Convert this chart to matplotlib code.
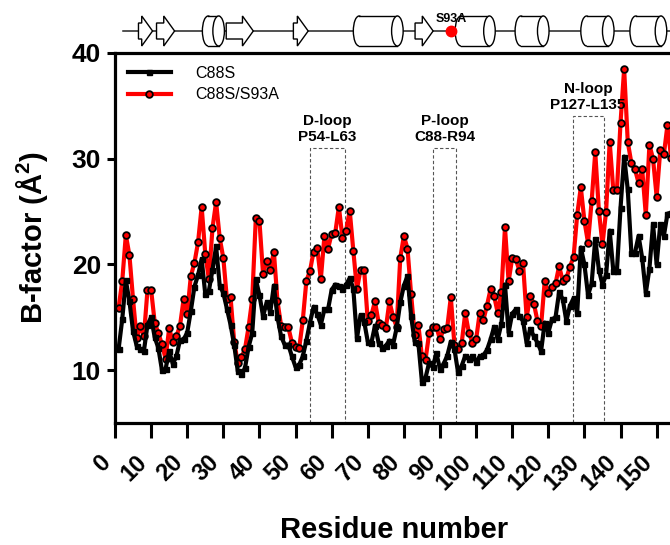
import numpy as np
import matplotlib
matplotlib.use('Agg')
import matplotlib.pyplot as plt
from matplotlib.patches import Rectangle, Ellipse, Polygon

plt.rcParams['font.family'] = ['Liberation Sans', 'DejaVu Sans']
plt.rcParams['mathtext.fontset'] = 'custom'
plt.rcParams['mathtext.rm'] = 'Liberation Sans'
plt.rcParams['mathtext.bf'] = 'Liberation Sans:bold'

# ---------------- data ----------------
residues = np.arange(1, 155)

c88s = [
    12.0, 14.8, 18.5, 16.5, 13.7, 12.3, 12.0, 11.8, 14.3, 15.0,
    13.1, 12.1, 10.0, 10.1, 11.8, 10.6, 11.3, 12.85, 12.9, 13.55,
    15.6, 17.9, 19.0, 20.5, 17.2, 17.5, 19.5, 21.7, 18.0, 17.3,
    15.8, 14.3, 12.4, 9.9, 9.6, 10.2, 12.2, 13.5, 18.6, 17.1,
    15.1, 16.4, 15.5, 18.0, 15.0, 13.2, 12.4, 12.4, 11.3, 10.3,
    10.5, 11.3, 12.8, 14.5, 16.0, 15.3, 14.3, 15.75, 15.75, 17.6,
    18.1, 18.0, 17.7, 18.1, 18.7, 17.7, 13.0, 15.2, 14.6, 12.7,
    12.6, 14.2, 12.6, 12.1, 12.3, 12.8, 12.4, 14.0, 16.4, 18.0,
    18.9, 15.1, 12.7, 12.6, 8.9, 9.3, 10.7, 10.3, 11.6, 10.1,
    10.6, 11.35, 12.7, 12.0, 9.8, 10.4, 11.35, 11.1, 11.3, 10.8,
    11.3, 11.4, 11.9, 12.9, 14.1, 12.9, 14.4, 18.1, 13.55, 15.35,
    15.75, 15.1, 14.65, 12.55, 13.9, 13.2, 12.6, 11.8, 14.5, 13.55,
    14.8, 15.0, 17.4, 16.7, 14.65, 16.1, 16.8, 15.4, 21.6, 20.0,
    17.1, 18.2, 22.4, 19.5, 18.1, 19.0, 23.2, 19.4, 19.4, 25.35,
    30.2, 27.1, 21.1, 21.1, 22.7, 20.6, 17.3, 19.6, 23.8, 20.0,
    23.8, 22.7, 24.8, 24.9]

c88s_s93a = [
    15.9, 18.4, 22.8, 20.85, 16.7, 13.0, 14.2, 13.2, 17.6, 17.6,
    14.5, 13.5, 12.45, 11.1, 13.95, 12.7, 13.2, 14.2, 16.7, 15.35,
    18.9, 20.15, 22.1, 25.45, 21.0, 18.6, 23.45, 25.9, 22.5, 20.6,
    16.7, 16.9, 12.7, 10.7, 11.2, 12.0, 14.1, 16.7, 24.4, 24.1,
    19.1, 20.35, 19.5, 21.2, 16.5, 14.2, 14.1, 14.05, 12.6, 12.15,
    12.05, 14.7, 18.45, 19.4, 21.2, 21.55, 18.6, 22.7, 21.5, 22.9,
    23.0, 25.45, 22.5, 23.2, 25.1, 21.3, 17.65, 19.5, 19.5, 14.65,
    15.2, 16.5, 14.5, 14.25, 13.95, 16.5, 15.05, 14.1, 20.6, 22.7,
    21.5, 17.2, 13.3, 14.3, 11.3, 11.0, 13.5, 14.1, 14.1, 12.9,
    13.9, 14.0, 16.9, 12.4, 12.0, 12.55, 15.4, 13.55, 12.6, 12.9,
    15.4, 14.7, 16.1, 17.65, 17.0, 15.4, 17.4, 23.5, 18.4, 20.6,
    20.5, 19.4, 20.1, 15.0, 17.0, 16.3, 14.65, 14.2, 18.4, 17.3,
    17.9, 18.2, 19.85, 18.4, 18.7, 19.8, 20.7, 24.7, 27.3, 24.1,
    22.05, 26.0, 30.6, 25.1, 21.9, 25.0, 31.6, 27.0, 27.0, 33.4,
    38.5, 31.6, 29.6, 29.0, 27.7, 29.0, 24.7, 31.3, 30.0, 26.4,
    30.8, 30.4, 33.2, 30.1]

series_names = ['C88S', 'C88S/S93A']
xticks = list(range(0, 151, 10))
yticks = [10, 20, 30, 40]

loop_names = ['D-loop\nP54-L63', 'P-loop\nC88-R94', 'N-loop\nP127-L135']
loop_start = [54.0, 88.0, 126.7]
loop_end = [63.8, 94.5, 135.3]
loop_top = [31, 31, 34]

strands = [(6.5, 10.4), (11.5, 16.5), (30.8, 38.3), (49.4, 53.5), (83.1, 88.1)]
helices = [(24.2, 30.3), (66.0, 79.8), (94.2, 105.3), (110.8, 120.2),
           (129.0, 138.2), (142.6, 152.8)]
mutation_site = 93
mutation_label = 'S93A'

# ---------------- layout ----------------
W, H = 670, 545
fig = plt.figure(figsize=(W / 100, H / 100), dpi=100)
left = 115 / W
right = 1.0
bottom = (H - 423) / H
top = (H - 53) / H
XMAX = 153.7
YMIN, YMAX = 5, 40

ax = fig.add_axes([left, bottom, right - left, top - bottom])

ax.plot(residues, c88s_s93a, color='#ff0000', lw=3, marker='o', ms=4.8,
        mfc='#ff0000', mec='black', mew=1.3, zorder=3, label=series_names[1])
ax.plot(residues, c88s, color='black', lw=3, marker='s', ms=3.6,
        zorder=4, label=series_names[0])

for name, s, e, t in zip(loop_names, loop_start, loop_end, loop_top):
    ax.add_patch(Rectangle((s, YMIN), e - s, t - YMIN, fill=False,
                           ls=(0, (3, 2)), lw=0.8, ec='#555555', zorder=2))
    ax.annotate(name, xy=((s + e) / 2, t), xytext=(0, 3),
                textcoords='offset points', ha='center', va='bottom',
                fontsize=11, fontweight='bold', linespacing=1.2)

ax.set_xlim(0, XMAX)
ax.set_ylim(YMIN, YMAX)
ax.set_xticks(xticks)
ax.set_yticks(yticks)
ax.tick_params(axis='x', direction='out', length=11, width=2.2, pad=9,
               labelsize=17)
ax.tick_params(axis='y', direction='out', length=6, width=2.2, pad=4,
               labelsize=19)
for lbl in ax.get_xticklabels():
    lbl.set_fontweight('bold')
    lbl.set_rotation(45)
    lbl.set_ha('right')
for lbl in ax.get_yticklabels():
    lbl.set_fontweight('bold')

for sp in ['left', 'bottom', 'top']:
    ax.spines[sp].set_linewidth(2.3)
ax.spines['right'].set_visible(False)

ax.set_xlabel('Residue number', fontsize=21, fontweight='bold', va='center')
ax.xaxis.set_label_coords((394 - 115) / 555, (423 - 530) / 370)
ax.set_ylabel('B-factor (Å$^{\\mathbf{2}}$)', fontsize=21, fontweight='bold',
              va='center')
ax.yaxis.set_label_coords((32 - 115) / 555, (423 - 237) / 370)

handles, labels = ax.get_legend_handles_labels()
ax.legend(handles[::-1], labels[::-1], loc='upper left', frameon=False,
          fontsize=11.5, handlelength=2.7, handletextpad=1.5,
          labelspacing=0.4, borderaxespad=0.4)

# ---------------- secondary structure strip ----------------
axs = fig.add_axes([left, 1 - 52 / H, right - left, 52 / H])
axs.set_xlim(0, XMAX)
axs.set_ylim(52, 0)
axs.axis('off')
yc = 31
axs.plot([2.2, XMAX], [yc, yc], color='#222222', lw=1.1, zorder=1)

th, hh, hl = 8, 15, 3.0
for s, e in strands:
    pts = [(s, yc - th), (e - hl, yc - th), (e - hl, yc - hh), (e, yc),
           (e - hl, yc + hh), (e - hl, yc + th), (s, yc + th)]
    axs.add_patch(Polygon(pts, closed=True, fc='white', ec='black', lw=1.0,
                          zorder=3))

ew, ch = 3.2, 15
for s, e in helices:
    cl, cr = s + ew / 2, e - ew / 2
    axs.add_patch(Ellipse((cl, yc), ew, 2 * ch, fc='white', ec='black',
                          lw=1.0, zorder=3))
    axs.add_patch(Rectangle((cl, yc - ch), cr - cl, 2 * ch, fc='white',
                            ec='none', zorder=4))
    axs.plot([cl, cr], [yc - ch, yc - ch], color='black', lw=1.0, zorder=5)
    axs.plot([cl, cr], [yc + ch, yc + ch], color='black', lw=1.0, zorder=5)
    axs.add_patch(Ellipse((cr, yc), ew, 2 * ch, fc='white', ec='black',
                          lw=1.0, zorder=6))

axs.plot([mutation_site], [yc], 'o', color='#ff0000', ms=7.5, zorder=8)
axs.text(mutation_site, 19, mutation_label, ha='center', va='center',
         fontsize=9, fontweight='bold', zorder=9)

fig.savefig('out.png', dpi=100)
